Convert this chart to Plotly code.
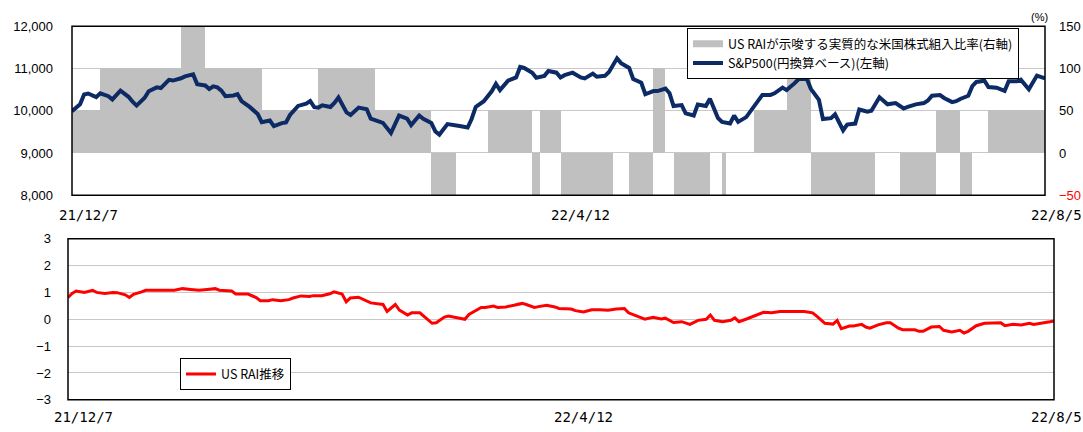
import plotly.graph_objects as go
import pandas as pd

# ---------------- data ----------------
period_start = "2021-12-07"
period_end = "2022-08-05"

# US RAI implied US equity allocation (%), step periods (right axis of top chart)
seg_start = ["2021-12-07", "2021-12-14", "2022-01-03", "2022-01-09", "2022-01-23", "2022-02-06",
             "2022-02-20", "2022-03-06", "2022-03-12", "2022-03-20", "2022-03-31", "2022-04-02",
             "2022-04-07", "2022-04-20", "2022-04-24", "2022-04-30", "2022-05-03", "2022-05-05",
             "2022-05-14", "2022-05-17", "2022-05-18", "2022-05-25", "2022-06-02", "2022-06-08",
             "2022-06-24", "2022-06-30", "2022-07-09", "2022-07-15", "2022-07-18", "2022-07-22"]
seg_value = [50, 100, 150, 100, 50, 100, 50, -50, 0, 50, -50, 50, -50, 0, -50, 100, 0, -50,
             0, -50, 0, 50, 100, -50, 0, -50, 50, -50, 0, 50]

# S&P500 (yen basis), left axis of top chart
sp_dates = ["2021-12-07", "2021-12-09", "2021-12-10", "2021-12-11", "2021-12-13", "2021-12-14",
            "2021-12-16", "2021-12-17", "2021-12-19", "2021-12-21", "2021-12-22", "2021-12-23",
            "2021-12-25", "2021-12-26", "2021-12-28", "2021-12-29", "2021-12-31", "2022-01-01",
            "2022-01-03", "2022-01-04", "2022-01-06", "2022-01-07", "2022-01-09", "2022-01-10",
            "2022-01-11", "2022-01-12", "2022-01-13", "2022-01-14", "2022-01-16", "2022-01-17",
            "2022-01-18", "2022-01-20", "2022-01-22", "2022-01-23", "2022-01-25", "2022-01-26",
            "2022-01-28", "2022-01-29", "2022-01-30", "2022-02-01", "2022-02-03", "2022-02-04",
            "2022-02-05", "2022-02-06", "2022-02-07", "2022-02-09", "2022-02-10", "2022-02-11",
            "2022-02-13", "2022-02-14", "2022-02-16", "2022-02-18", "2022-02-19", "2022-02-21",
            "2022-02-22", "2022-02-24", "2022-02-25", "2022-02-26", "2022-02-28", "2022-03-01",
            "2022-03-03", "2022-03-04", "2022-03-06", "2022-03-07", "2022-03-08", "2022-03-10",
            "2022-03-13", "2022-03-15", "2022-03-16", "2022-03-17", "2022-03-19", "2022-03-21",
            "2022-03-22", "2022-03-23", "2022-03-25", "2022-03-27", "2022-03-28", "2022-03-29",
            "2022-03-31", "2022-04-01", "2022-04-03", "2022-04-04", "2022-04-06", "2022-04-07",
            "2022-04-08", "2022-04-10", "2022-04-12", "2022-04-13", "2022-04-15", "2022-04-16",
            "2022-04-18", "2022-04-19", "2022-04-21", "2022-04-22", "2022-04-24", "2022-04-25",
            "2022-04-27", "2022-04-28", "2022-04-30", "2022-05-01", "2022-05-03", "2022-05-04",
            "2022-05-05", "2022-05-07", "2022-05-08", "2022-05-10", "2022-05-11", "2022-05-13",
            "2022-05-14", "2022-05-16", "2022-05-17", "2022-05-19", "2022-05-20", "2022-05-21",
            "2022-05-23", "2022-05-24", "2022-05-26", "2022-05-27", "2022-05-29", "2022-05-30",
            "2022-06-01", "2022-06-02", "2022-06-04", "2022-06-05", "2022-06-07", "2022-06-08",
            "2022-06-10", "2022-06-11", "2022-06-13", "2022-06-14", "2022-06-16", "2022-06-17",
            "2022-06-19", "2022-06-20", "2022-06-22", "2022-06-23", "2022-06-25", "2022-06-27",
            "2022-06-29", "2022-07-01", "2022-07-02", "2022-07-04", "2022-07-06", "2022-07-07",
            "2022-07-08", "2022-07-10", "2022-07-11", "2022-07-13", "2022-07-14", "2022-07-15",
            "2022-07-17", "2022-07-18", "2022-07-19", "2022-07-21", "2022-07-22", "2022-07-24",
            "2022-07-26", "2022-07-27", "2022-07-29", "2022-07-30", "2022-08-01", "2022-08-02",
            "2022-08-03", "2022-08-05"]
sp_values = [9990, 10154, 10385, 10408, 10323, 10415, 10346, 10269, 10477, 10331, 10215, 10123,
             10308, 10462, 10554, 10538, 10731, 10715, 10769, 10815, 10862, 10631, 10600, 10515,
             10577, 10554, 10477, 10346, 10362, 10392, 10231, 10092, 9923, 9731, 9769, 9638,
             9708, 9723, 9900, 10115, 10169, 10231, 10085, 10075, 10128, 10090, 10188, 10316,
             9962, 9902, 10075, 10038, 9812, 9759, 9714, 9474, 9699, 9887, 9812, 9662,
             9887, 9812, 9714, 9511, 9436, 9684, 9639, 9602, 9812, 10090, 10226, 10466,
             10639, 10489, 10714, 10789, 11038, 11015, 10902, 10782, 10827, 10940, 10902, 10789,
             10842, 10902, 10789, 10767, 10880, 10805, 10827, 10917, 11241, 11128, 11015, 10752,
             10662, 10391, 10466, 10466, 10526, 10414, 10113, 10135, 9940, 9887, 10150, 10113,
             10286, 9827, 9737, 9699, 9887, 9737, 9850, 9985, 10248, 10376, 10376, 10414,
             10549, 10489, 10654, 10752, 10760, 10520, 10258, 9803, 9826, 9917, 9538, 9674,
             9697, 10030, 9977, 10000, 10318, 10152, 10182, 10053, 10091, 10152, 10182, 10242,
             10356, 10371, 10303, 10205, 10227, 10280, 10356, 10583, 10682, 10712, 10561, 10545,
             10470, 10697, 10697, 10735, 10508, 10659, 10833, 10770]

# US RAI index (bottom chart)
rai_dates = ["2021-12-07", "2021-12-08", "2021-12-09", "2021-12-11", "2021-12-13", "2021-12-14",
             "2021-12-16", "2021-12-18", "2021-12-19", "2021-12-21", "2021-12-22", "2021-12-23",
             "2021-12-25", "2021-12-26", "2022-01-02", "2022-01-04", "2022-01-06", "2022-01-08",
             "2022-01-10", "2022-01-12", "2022-01-13", "2022-01-15", "2022-01-16", "2022-01-17",
             "2022-01-20", "2022-01-22", "2022-01-23", "2022-01-25", "2022-01-26", "2022-01-28",
             "2022-01-30", "2022-01-31", "2022-02-02", "2022-02-04", "2022-02-05", "2022-02-07",
             "2022-02-09", "2022-02-10", "2022-02-12", "2022-02-13", "2022-02-14", "2022-02-16",
             "2022-02-18", "2022-02-19", "2022-02-22", "2022-02-23", "2022-02-25", "2022-02-26",
             "2022-02-28", "2022-03-01", "2022-03-03", "2022-03-05", "2022-03-06", "2022-03-07",
             "2022-03-09", "2022-03-10", "2022-03-12", "2022-03-14", "2022-03-15", "2022-03-18",
             "2022-03-19", "2022-03-21", "2022-03-22", "2022-03-24", "2022-03-26", "2022-03-28",
             "2022-03-29", "2022-03-31", "2022-04-01", "2022-04-03", "2022-04-05", "2022-04-06",
             "2022-04-09", "2022-04-10", "2022-04-12", "2022-04-14", "2022-04-16", "2022-04-18",
             "2022-04-20", "2022-04-22", "2022-04-23", "2022-04-25", "2022-04-27", "2022-04-29",
             "2022-05-01", "2022-05-02", "2022-05-04", "2022-05-06", "2022-05-08", "2022-05-10",
             "2022-05-12", "2022-05-13", "2022-05-14", "2022-05-16", "2022-05-18", "2022-05-19",
             "2022-05-20", "2022-05-22", "2022-05-24", "2022-05-26", "2022-05-28", "2022-05-30",
             "2022-06-05", "2022-06-07", "2022-06-08", "2022-06-10", "2022-06-12", "2022-06-13",
             "2022-06-14", "2022-06-16", "2022-06-17", "2022-06-19", "2022-06-20", "2022-06-21",
             "2022-06-23", "2022-06-25", "2022-06-26", "2022-06-28", "2022-06-29", "2022-07-02",
             "2022-07-03", "2022-07-04", "2022-07-06", "2022-07-08", "2022-07-09", "2022-07-11",
             "2022-07-13", "2022-07-14", "2022-07-15", "2022-07-17", "2022-07-19", "2022-07-21",
             "2022-07-23", "2022-07-24", "2022-07-26", "2022-07-28", "2022-07-30", "2022-07-31",
             "2022-08-02", "2022-08-04", "2022-08-05"]
rai_values = [0.81, 0.96, 1.05, 1.00, 1.08, 1.00, 0.96, 1.00, 0.99, 0.91, 0.81, 0.93,
              1.02, 1.08, 1.08, 1.14, 1.11, 1.08, 1.11, 1.14, 1.08, 1.05, 1.05, 0.94,
              0.94, 0.81, 0.69, 0.69, 0.73, 0.69, 0.73, 0.79, 0.87, 0.85, 0.88, 0.88,
              0.95, 1.02, 0.94, 0.65, 0.79, 0.82, 0.67, 0.61, 0.55, 0.29, 0.55, 0.34,
              0.16, 0.24, 0.24, -0.04, -0.15, -0.13, 0.08, 0.12, 0.05, 0.00, 0.18, 0.44,
              0.44, 0.49, 0.44, 0.46, 0.52, 0.59, 0.55, 0.44, 0.47, 0.52, 0.46, 0.40,
              0.38, 0.32, 0.27, 0.35, 0.35, 0.34, 0.38, 0.40, 0.24, 0.11, 0.00, 0.07,
              0.01, 0.04, -0.12, -0.09, -0.19, -0.04, 0.00, 0.16, -0.04, -0.09, -0.04, 0.05,
              -0.09, 0.02, 0.14, 0.26, 0.24, 0.29, 0.29, 0.24, 0.12, -0.15, -0.18, -0.04,
              -0.35, -0.25, -0.25, -0.19, -0.29, -0.33, -0.21, -0.13, -0.13, -0.33, -0.39, -0.39,
              -0.45, -0.45, -0.29, -0.27, -0.41, -0.47, -0.41, -0.51, -0.45, -0.24, -0.15, -0.15,
              -0.13, -0.24, -0.19, -0.21, -0.15, -0.19, -0.15, -0.09, -0.06]

x_tick_dates = ["2021-12-07", "2022-04-12", "2022-08-05"]
x_tick_text = ["21/12/7", "22/4/12", "22/8/5"]
right_tickvals = [150, 100, 50, 0, -50]
right_ticktext = ["150", "100", "50", "0", '<span style="color:#ff0000">−50</span>']

name_alloc = "US RAIが示唆する実質的な米国株式組入比率(右軸)"
name_sp = "S&P500(円換算ベース)(左軸)"
name_rai = "US RAI推移"

# ---------------- figure ----------------
W, H = 1083, 432
GRAY = "#c0c0c0"
NAVY = "#0c2a63"
NUMFONT = dict(family="Liberation Sans, Arial, sans-serif", size=13, color="#000000")
JPFONT = dict(family="Noto Sans CJK JP, sans-serif", size=12.5, color="#000000")
DATEFONT = dict(family="DejaVu Sans Mono", size=14, color="#000000")

starts = pd.to_datetime(seg_start)
ends = pd.to_datetime(seg_start[1:] + [period_end])
widths = [(e - s).total_seconds() * 1000 for s, e in zip(starts, ends)]

fig = go.Figure()
fig.add_trace(go.Bar(x=seg_start, y=seg_value, width=widths, offset=0,
                     marker=dict(color=GRAY, line=dict(width=0)),
                     showlegend=False, xaxis="x", yaxis="y", hoverinfo="skip"))
# legend entry styled like the reference (wide grey swatch)
fig.add_trace(go.Scatter(x=[None], y=[None], mode="lines", name=name_alloc,
                         line=dict(color=GRAY, width=7), xaxis="x", yaxis="y", legend="legend"))
fig.add_trace(go.Scatter(x=sp_dates, y=sp_values, mode="lines", name=name_sp,
                         line=dict(color=NAVY, width=4), xaxis="x", yaxis="y2", legend="legend"))
fig.add_trace(go.Scatter(x=rai_dates, y=rai_values, mode="lines", name=name_rai,
                         line=dict(color="#ff0000", width=3), xaxis="x2", yaxis="y3",
                         legend="legend2"))

axis_common = dict(zeroline=False, ticks="", showline=False)

fig.update_layout(
    width=W, height=H, autosize=False,
    margin=dict(l=0, r=0, t=0, b=0),
    paper_bgcolor="white", plot_bgcolor="white",
    font=JPFONT,
    xaxis=dict(domain=[72 / W, 1045 / W], anchor="y", type="date",
               range=[period_start, period_end], showticklabels=False, showgrid=False,
               **axis_common),
    yaxis=dict(domain=[1 - 195 / H, 1 - 20 / H], anchor="x", side="right",
               range=[-50, 150], tickvals=right_tickvals, ticktext=right_ticktext,
               showgrid=True, gridcolor="#c8c8c8", gridwidth=1, tickfont=NUMFONT,
               ticklabelstandoff=13, **axis_common),
    yaxis2=dict(overlaying="y", anchor="x", side="left", range=[8000, 12000], dtick=1000,
                tickformat=",", showgrid=False, tickfont=NUMFONT, ticklabelstandoff=18,
                **axis_common),
    xaxis2=dict(domain=[68 / W, 1054 / W], anchor="y3", type="date",
                range=[period_start, period_end], showticklabels=False, showgrid=False,
                **axis_common),
    yaxis3=dict(domain=[1 - 407 / H, 1 - 240 / H], anchor="x2", range=[-3, 3], dtick=1,
                showgrid=True, gridcolor="#c8c8c8", gridwidth=1, tickfont=NUMFONT,
                ticklabelstandoff=16, **axis_common),
    legend=dict(x=687 / W, y=1 - 22 / H, xanchor="left", yanchor="top",
                bgcolor="white", bordercolor="#000000", borderwidth=1,
                font=JPFONT, itemwidth=30, tracegroupgap=0),
    legend2=dict(x=180 / W, y=1 - 364 / H, xanchor="left", yanchor="top",
                 bgcolor="white", bordercolor="#000000", borderwidth=1,
                 font=JPFONT, itemwidth=30),
    bargap=0,
)

# plot borders
for xd, yd in (("x domain", "y domain"), ("x2 domain", "y3 domain")):
    fig.add_shape(type="rect", xref=xd, yref=yd, x0=0, x1=1, y0=0, y1=1,
                  line=dict(color="#000000", width=1.5), fillcolor="rgba(0,0,0,0)")

# date labels
top_shift = [16, 0, 11]
bot_shift = [15, 0, 2]
for d, t, s in zip(x_tick_dates, x_tick_text, top_shift):
    fig.add_annotation(x=d, y=1 - 215 / H, xref="x", yref="paper", text=t, showarrow=False,
                       xanchor="center", yanchor="middle", xshift=s, font=DATEFONT)
for d, t, s in zip(x_tick_dates, x_tick_text, bot_shift):
    fig.add_annotation(x=d, y=1 - 425 / H, xref="x2", yref="paper", text=t, showarrow=False,
                       xanchor="center", yanchor="middle", xshift=s, font=DATEFONT)

fig.add_annotation(x=1039 / W, y=1 - 10 / H, xref="paper", yref="paper", text="(%)",
                   showarrow=False, xanchor="center", yanchor="middle",
                   font=dict(family="Liberation Sans, Arial, sans-serif", size=11, color="#000"))

# remove the default page margins so the figure sits at the window's top-left corner
post = ("var s=document.documentElement.style, b=document.body.style;"
        "s.margin='0'; s.padding='0'; s.overflow='hidden'; s.background='#00ff00';"
        "b.margin='0'; b.padding='0'; b.overflow='hidden';")

fig.write_html("out.html", config={"displayModeBar": False}, post_script=post)
